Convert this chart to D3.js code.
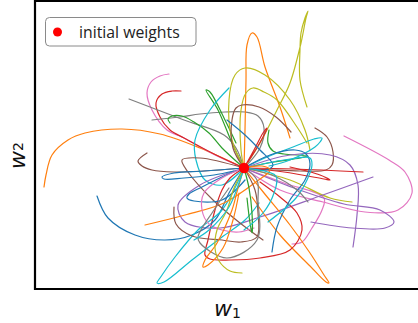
<!DOCTYPE html>
<html><head><meta charset="utf-8">
<script src="https://cdn.jsdelivr.net/npm/d3@7"></script>
<style>html,body{margin:0;padding:0;background:#fff;}svg{display:block;}</style>
</head><body>
<svg id="chart" width="418" height="323"></svg>
<script>
// weight-space domain (w1, w2), initial weights at origin
const w1Domain = [-209, 186];
const w2Domain = [-121, 167];
const initialWeights = [[0, 0]];
const legendLabel = "initial weights";

// tab10 palette names
const palette = {blue:"#1f77b4", orange:"#ff7f0e", green:"#2ca02c", red:"#d62728", purple:"#9467bd",
  brown:"#8c564b", pink:"#e377c2", gray:"#7f7f7f", olive:"#bcbd22", cyan:"#17becf"};

// trajectories (w1, w2)
const tOrange1 = [[0,0],[-44,20],[-84,34],[-122,39],[-159,35],[-176,28],[-192,13],[-198,-7],[-200,-19]];
const tPink1   = [[0,0],[-29,13],[-60,30],[-77,38],[-92,58],[-97,75],[-93,86],[-84,92],[-75,94]];
const tRed1    = [[0,0],[-30,14],[-60,30],[-74,38],[-84,51],[-88,65],[-82,74],[-72,77],[-63,77]];
const tGray1   = [[0,0],[-8,20],[-20,33],[-60,48],[-115,69]];
const tGray2   = [[0,0],[16,20],[20,40],[14,52],[1,56],[-19,56],[-44,54],[-64,51],[-92,48]];
const tGreen1  = [[0,0],[-22,20],[-35,35],[-50,46],[-62,52],[-72,52],[-76,49],[-74,45]];
const tGreen2  = [[0,0],[-12,25],[-26,58],[-38,78],[-34,76],[-20,50],[-8,25]];
const tCyan1   = [[0,0],[-22,-17],[-39,-12],[-48,8],[-49,28],[-34,58],[-15,80]];
const tOrange2 = [[0,0],[1,38],[2,88],[3,123],[8,135],[13,131],[21,101],[36,61],[46,30]];
const tOlive1  = [[0,0],[16,25],[33,58],[46,85],[57,125],[62,150],[64,157],[61,150],[57,135],[56,118],[56,88],[63,61]];
const tOlive2  = [[0,0],[-12,28],[-15,68],[-9,93],[1,100],[21,93],[46,68],[61,38],[66,18]];
const tOlive3  = [[0,0],[-3,18],[-3,58],[2,75],[9,80],[20,76],[33,68],[53,41],[63,25]];
const tBrown1  = [[0,0],[-11,20],[-12,48],[-8,60],[-2,63],[15,61],[32,51],[47,36]];
const tRed2    = [[0,0],[10,18],[19,35],[23,40],[22,37],[14,22],[4,6]];
const tGreen3  = [[0,0],[30,6],[56,10],[63,12],[40,14],[29,17],[24,25],[25,38]];
const tCyan2   = [[0,0],[23,11],[49,21],[70,29],[78,30],[76,26],[71,21],[46,8],[25,2]];
const tBrown2  = [[0,0],[30,-2],[56,-3],[82,-2],[88,3],[89,16],[83,31],[71,40]];
const tPurple1 = [[0,0],[46,13],[86,13],[106,3],[114,-17],[113,-47],[109,-79]];
const tPink2   = [[0,0],[36,-22],[79,-34],[121,-44],[154,-42],[168,-25],[161,-4],[145,8],[100,32]];
const tPink3   = [[0,0],[40,-15],[80,-30],[78,-42],[68,-60],[58,-74],[48,-76]];
const tRed3    = [[0,0],[50,-1],[119,-4]];
const tRed4    = [[0,0],[40,-4],[80,-11],[86,-12],[76,-7],[46,1]];
const tOlive4  = [[0,0],[46,-12],[86,-30],[108,-34]];
const tPurple2 = [[0,0],[50,-20],[100,-36],[136,-42],[150,-54],[141,-60],[108,-60],[67,-54]];
const tPurple3 = [[0,0],[-44,-17],[-66,-37],[-59,-54],[-24,-60],[16,-49],[76,-28],[129,-9]];
const tOrange3 = [[0,0],[20,-25],[46,-57],[66,-85],[80,-107],[85,-115],[82,-114],[66,-98],[36,-67],[8,-29]];
const tRed5    = [[0,0],[-14,-10],[-22,-22],[-29,-42],[-36,-72],[-39,-87],[-34,-91],[-14,-92],[16,-90],[46,-82],[58,-62],[53,-45],[36,-29],[16,-14]];
const tBlue1   = [[0,0],[26,13],[51,18],[62,14],[66,4],[61,-12],[46,-32],[33,-59],[28,-84]];
const tBlue2   = [[0,0],[22,-2],[29,3],[16,18],[1,33],[-17,48]];
const tCyan3   = [[0,0],[40,8],[66,10],[68,3],[63,-12],[52,-30],[24,-54]];
const tGray3   = [[0,0],[30,-8],[53,-22],[64,-34]];
const tBlue3   = [[0,0],[-15,-25],[-29,-52],[-52,-67],[-79,-72],[-109,-67],[-136,-50],[-147,-28]];
const tCyan4   = [[0,0],[-22,-42],[-46,-62],[-69,-89],[-84,-110],[-87,-115],[-80,-114],[-52,-92],[-22,-69],[1,-52],[15,-35]];
const tOrange4 = [[0,0],[18,2],[26,-2],[12,-14],[-20,-35],[-59,-47],[-99,-57]];
const tBrown3  = [[0,0],[11,-22],[14,-45],[13,-69],[-3,-74],[-22,-72],[-52,-68],[-68,-56],[-70,-39]];
const tBrown4  = [[0,0],[-44,10],[-62,8],[-56,-4],[-31,-32],[-4,-55],[19,-72]];
const tBrown5  = [[0,0],[-40,-3],[-70,-4],[-92,-2],[-102,2],[-106,7],[-97,15]];
const tBlue4   = [[0,0],[-40,-3],[-70,-5],[-82,-9],[-80,-11],[-60,-10],[-30,-7],[-10,-3]];
const tBlue5   = [[0,0],[-20,-8],[-42,-19],[-55,-26],[-57,-30],[-50,-33],[-22,-32],[1,-12]];
const tPink4   = [[0,0],[-22,-10],[-40,-25],[-42,-42],[-35,-56],[-22,-62],[-5,-64],[10,-60]];
const tGray4   = [[0,0],[13,-12],[14,-32],[13,-72],[-17,-90],[-44,-75],[-46,-69],[-30,-42],[-15,-20]];
const tOrange5 = [[0,0],[-6,-20],[-12,-42],[-27,-75],[-39,-92],[-41,-99],[-36,-97],[-21,-80],[-11,-52],[-5,-25]];
const tOlive5  = [[0,0],[-10,-20],[-17,-42],[-27,-62],[-29,-80],[-25,-93],[-14,-103],[-2,-105]];
const tGreen4  = [[0,0],[5,-20],[8,-45],[8,-65],[6,-55],[3,-30]];
const tCyan5   = [[0,0],[-5,-15],[-15,-39],[-35,-62],[-50,-72]];
const tCyan6   = [[0,0],[32,-8],[30,-25],[19,-45],[0,-62]];

const trajectories = [
  [tOrange1,"orange"],[tPink1,"pink"],[tRed1,"red"],[tGray1,"gray"],[tGray2,"gray"],[tGreen1,"green"],
  [tGreen2,"green"],[tCyan1,"cyan"],[tOrange2,"orange"],[tOlive1,"olive"],[tOlive2,"olive"],[tOlive3,"olive"],
  [tBrown1,"brown"],[tRed2,"red"],[tGreen3,"green"],[tCyan2,"cyan"],[tBrown2,"brown"],[tPurple1,"purple"],
  [tPink2,"pink"],[tPink3,"pink"],[tRed3,"red"],[tRed4,"red"],[tOlive4,"olive"],[tPurple2,"purple"],
  [tPurple3,"purple"],[tOrange3,"orange"],[tRed5,"red"],[tBlue1,"blue"],[tBlue2,"blue"],[tCyan3,"cyan"],
  [tGray3,"gray"],[tBlue3,"blue"],[tCyan4,"cyan"],[tOrange4,"orange"],[tBrown3,"brown"],[tBrown4,"brown"],
  [tBrown5,"brown"],[tBlue4,"blue"],[tBlue5,"blue"],[tPink4,"pink"],[tGray4,"gray"],[tOrange5,"orange"],
  [tOlive5,"olive"],[tGreen4,"green"],[tCyan5,"cyan"],[tCyan6,"cyan"]
];

const svg = d3.select("#chart");
const pLeft = 35, pTop = 1, pBottom = 289, pRight = 430;
const x = d3.scaleLinear().domain(w1Domain).range([pLeft, pRight]);
const y = d3.scaleLinear().domain(w2Domain).range([pBottom, pTop]);

svg.append("clipPath").attr("id","clip").append("rect")
  .attr("x", pLeft).attr("y", pTop).attr("width", pRight-pLeft).attr("height", pBottom-pTop);

const line = d3.line().x(d=>x(d[0])).y(d=>y(d[1])).curve(d3.curveCatmullRom.alpha(0.5));
const g = svg.append("g").attr("clip-path","url(#clip)");
g.selectAll("path.traj").data(trajectories).join("path")
  .attr("class","traj")
  .attr("d", d=>line(d[0]))
  .attr("fill","none")
  .attr("stroke", d=>palette[d[1]])
  .attr("stroke-width",1.2)
  .attr("stroke-linejoin","round").attr("stroke-linecap","round");

g.selectAll("circle.init").data(initialWeights).join("circle")
  .attr("class","init").attr("cx",d=>x(d[0])).attr("cy",d=>y(d[1])).attr("r",5.2).attr("fill","#ff0000");

// frame
svg.append("path")
  .attr("d", `M${pRight+10},${pTop} H${pLeft} V${pBottom} H${pRight+10}`)
  .attr("fill","none").attr("stroke","#000").attr("stroke-width",2.2);

// legend
const lg = svg.append("g");
lg.append("rect").attr("x",45.5).attr("y",17.5).attr("width",150.5).attr("height",28.5).attr("rx",4)
  .attr("fill","#fff").attr("stroke","#8a8a8a").attr("stroke-width",1);
lg.append("circle").attr("cx",57.5).attr("cy",32).attr("r",4.5).attr("fill","#ff0000");
lg.append("text").attr("x",79).attr("y",37.5).attr("font-family","Open Sans, sans-serif")
  .attr("font-size",15.8).attr("fill","#222").text(legendLabel);

// axis labels
const xl = svg.append("text").attr("x",214).attr("y",316).attr("font-family","DejaVu Sans")
  .attr("fill","#111");
xl.append("tspan").attr("font-size",22).attr("font-style","oblique").text("w");
xl.append("tspan").attr("font-size",14).attr("dy",2).text("1");

const yl = svg.append("text").attr("transform","translate(25,169) rotate(-90)").attr("font-family","DejaVu Sans")
  .attr("fill","#111");
yl.append("tspan").attr("font-size",22).attr("font-style","oblique").text("w");
yl.append("tspan").attr("font-size",14).attr("dy",-2).text("2");
</script>
</body></html>
